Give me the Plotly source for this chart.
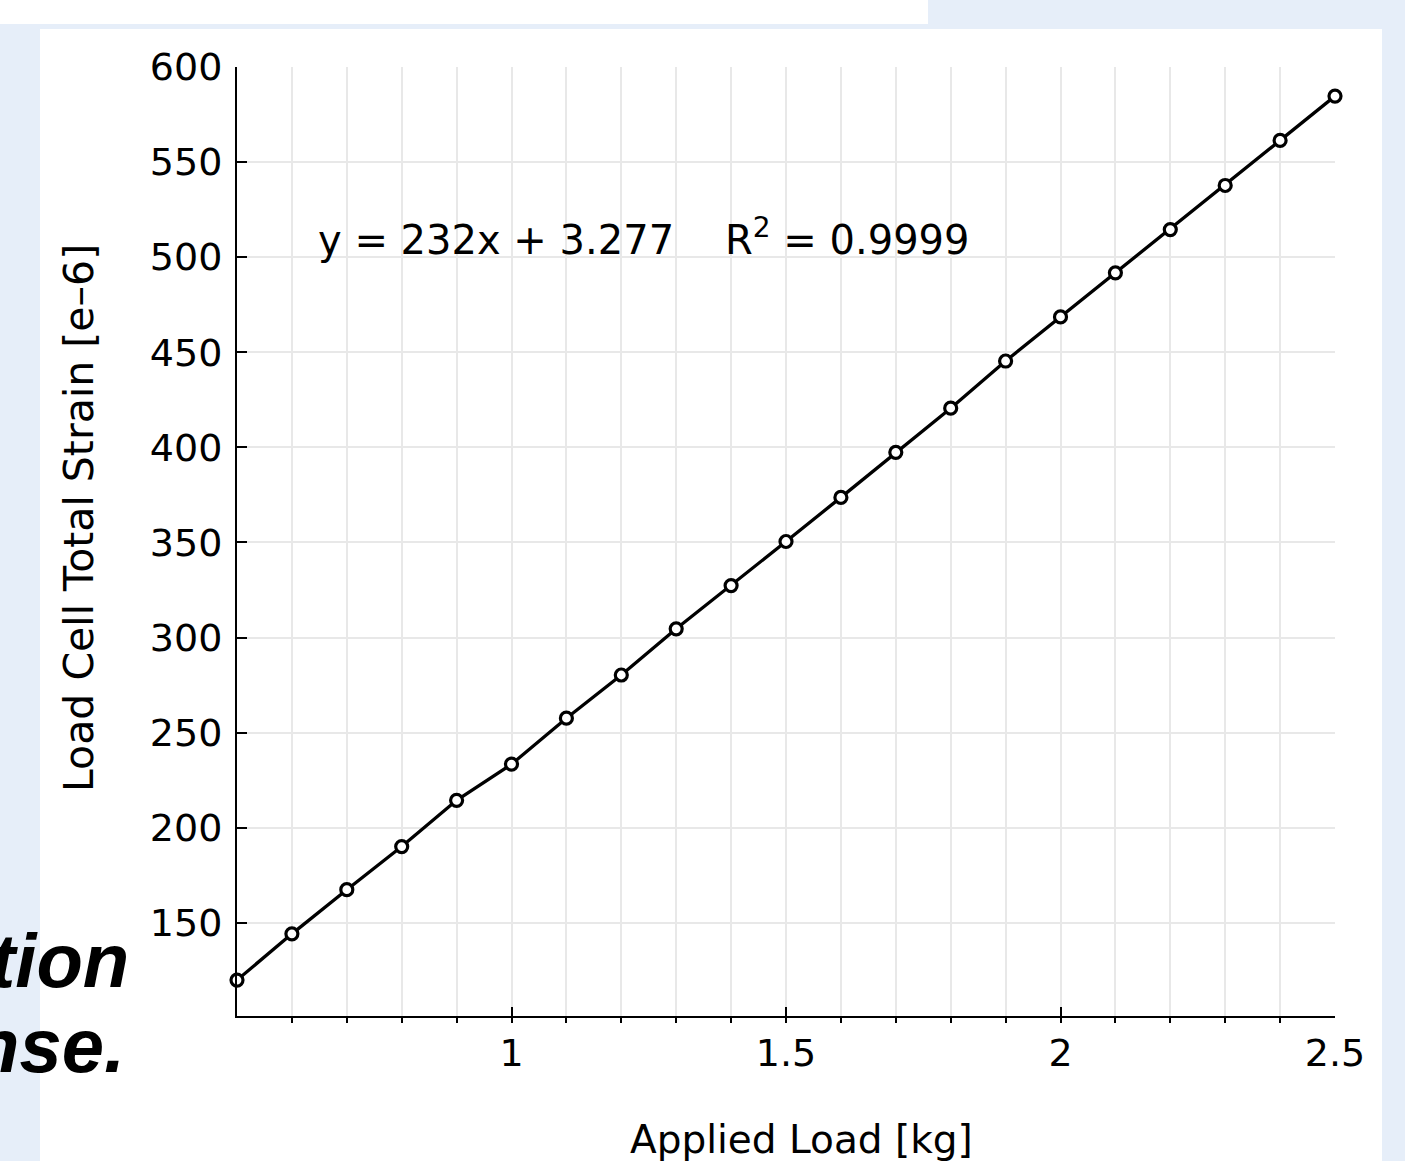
import plotly.graph_objects as go

# ---- data ----
applied_load = [0.5, 0.6, 0.7, 0.8, 0.9, 1.0, 1.1, 1.2, 1.3, 1.4, 1.5,
                1.6, 1.7, 1.8, 1.9, 2.0, 2.1, 2.2, 2.3, 2.4, 2.5]
total_strain = [119.9, 144.2, 167.4, 190.1, 214.4, 233.4, 257.6, 280.3, 304.6, 327.3, 350.5,
                373.7, 397.4, 420.6, 445.4, 468.6, 491.8, 514.5, 537.7, 561.4, 584.7]
x_tickvals = [1, 1.5, 2, 2.5]
x_ticktext = ["1", "1.5", "2", "2.5"]
y_tickvals = [150, 200, 250, 300, 350, 400, 450, 500, 550, 600]
equation_text = "y = 232x + 3.277\u00a0\u00a0\u00a0\u00a0R<sup>2</sup> = 0.9999"
x_title = "Applied Load [kg]"
y_title = "Load Cell Total Strain [e\u20136]"
side_text = ["tion", "nse."]

# ---- layout geometry (pixels) ----
W, H = 1405, 1161
L, R, T, B = 237, 1335, 67, 1016
PW, PH = R - L, B - T


def px(xp):
    return (xp - L) / PW


def py(yp):
    return (B - yp) / PH


FONT = "DejaVu Sans"
BG_BLUE = "#e6eef9"
GRID = "#e8e8e8"

fig = go.Figure()
fig.add_trace(go.Scatter(
    x=applied_load, y=total_strain, mode="lines+markers",
    line=dict(color="black", width=3.3),
    marker=dict(symbol="circle", size=12, color="white",
                line=dict(color="black", width=3.2)),
    cliponaxis=False, showlegend=False, hoverinfo="x+y",
))

shapes = [
    dict(type="rect", xref="paper", yref="paper", layer="below",
         x0=px(40), x1=px(1382), y0=py(1161), y1=py(29),
         fillcolor="white", line=dict(width=0)),
    dict(type="rect", xref="paper", yref="paper", layer="below",
         x0=px(0), x1=px(928), y0=py(24), y1=py(0),
         fillcolor="white", line=dict(width=0)),
]

annotations = [
    dict(text=equation_text, xref="paper", yref="paper", x=px(316), y=py(237),
         xanchor="left", yanchor="middle", showarrow=False,
         font=dict(family=FONT, size=40, color="black")),
    dict(text=x_title, xref="paper", yref="paper", x=px(801), y=py(1139),
         xanchor="center", yanchor="middle", showarrow=False,
         font=dict(family=FONT, size=39, color="black")),
    dict(text=y_title, xref="paper", yref="paper", x=px(79), y=py(518),
         xanchor="center", yanchor="middle", showarrow=False, textangle=-90,
         font=dict(family=FONT, size=41, color="black")),
    dict(text=side_text[0], xref="paper", yref="paper", x=px(131), y=py(960),
         xanchor="right", yanchor="middle", showarrow=False,
         font=dict(family="Liberation Sans", size=76, color="black",
                   weight="bold", style="italic")),
    dict(text=side_text[1], xref="paper", yref="paper", x=px(127), y=py(1045),
         xanchor="right", yanchor="middle", showarrow=False,
         font=dict(family="Liberation Sans", size=76, color="black",
                   weight="bold", style="italic")),
]

fig.update_layout(
    width=W, height=H,
    margin=dict(l=L, r=W - R, t=T, b=H - B, pad=0),
    paper_bgcolor=BG_BLUE, plot_bgcolor="white",
    shapes=shapes, annotations=annotations,
    font=dict(family=FONT, color="black"),
    xaxis=dict(
        range=[0.5, 2.5], tickvals=x_tickvals, ticktext=x_ticktext,
        showgrid=True, gridcolor=GRID, gridwidth=2,
        showline=True, linecolor="black", linewidth=2,
        ticks="inside", ticklen=9, tickwidth=2, tickcolor="black",
        tickfont=dict(family=FONT, size=38, color="black"),
        ticklabelstandoff=2,
        zeroline=False,
        minor=dict(tick0=0.5, dtick=0.1, ticks="outside", ticklen=5, tickwidth=2,
                   tickcolor="black", showgrid=True, gridcolor=GRID, gridwidth=2),
    ),
    yaxis=dict(
        range=[101, 600], tickvals=y_tickvals,
        showgrid=True, gridcolor=GRID, gridwidth=2,
        showline=True, linecolor="black", linewidth=2,
        ticks="inside", ticklen=10, tickwidth=2, tickcolor="black",
        tickfont=dict(family=FONT, size=38, color="black"),
        ticklabelstandoff=5,
        zeroline=False,
    ),
)

fig.write_html(
    "out.html",
    config={"displayModeBar": False},
    post_script="document.body.style.margin='0';document.body.style.overflow='hidden';",
)
